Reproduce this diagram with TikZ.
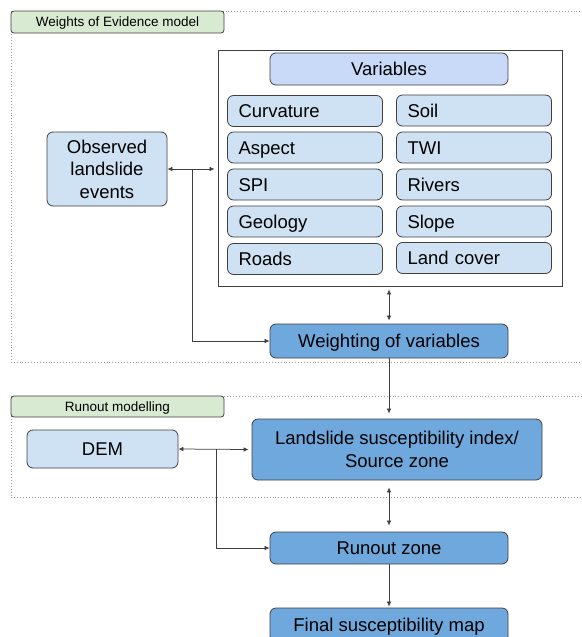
\documentclass[tikz,border=0pt]{standalone}
\usepackage{fontspec}
\setmainfont{Liberation Sans}
\usepackage{xcolor}
\usetikzlibrary{calc}
\usetikzlibrary{arrows.meta}
\usetikzlibrary{positioning}

\definecolor{boxline}{HTML}{3F3F3F}
\definecolor{varfill}{HTML}{CFE2F3}
\definecolor{headfill}{HTML}{C9DAF8}
\definecolor{procfill}{HTML}{6FA8DC}
\definecolor{tagfill}{HTML}{D9EAD3}

\begin{document}
\begin{tikzpicture}[x=1pt,y=-1pt,>={Latex[length=5pt,width=4.5pt]}]
    \tikzstyle{every node}=[inner sep=0pt,font=\fontsize{18.5}{22.5}\selectfont]
    \tikzstyle{sect}=[draw=black!40,dotted,line width=0.9pt]
    \tikzstyle{tag}=[draw=boxline,line width=0.8pt,fill=tagfill,rounded corners=3pt,minimum width=213pt,text height=10.5pt,text depth=1pt,font=\fontsize{13.5}{16}\selectfont]
    \tikzstyle{var}=[draw=boxline,line width=0.8pt,fill=varfill,rounded corners=6pt,minimum height=31pt,text width=133pt,inner xsep=11pt,align=left,text height=14pt,text depth=1pt]
    \tikzstyle{proc}=[draw=boxline,line width=0.8pt,fill=procfill,rounded corners=6pt,align=center,minimum width=238pt]
    \tikzstyle{one}=[text height=14pt,text depth=1pt]
    \tikzstyle{link}=[draw=boxline,line width=0.75pt]

   \useasboundingbox (0,0) rectangle (581,637);

   \draw[sect] (11,11) rectangle (600,362);
   \draw[sect] (11,396) rectangle (600,497);

   \node[tag,minimum height=22pt] (woe) at (117.5,22) {Weights of Evidence model};
   \node[tag,minimum height=21pt] (runmod) at (117.5,406.5) {Runout modelling};

   \node[draw=boxline,line width=0.8pt,minimum width=344pt,minimum height=236pt] (frame) at (390,168) {};
   \node[proc,one,fill=headfill,minimum height=32pt] (vars) at (389,69) {Variables};

   \def\colL{305}
   \def\colR{474}

   \node[var] (curv) at (\colL,111) {Curvature};
   \node[var] (aspect) at (\colL,147.5) {Aspect};
   \node[var] (spi) at (\colL,184.5) {SPI};
   \node[var] (geol) at (\colL,221.5) {Geology};
   \node[var] (roads) at (\colL,259) {Roads};

   \node[var] (soil) at (\colR,110.5) {Soil};
   \node[var] (twi) at (\colR,147.5) {TWI};
   \node[var] (rivers) at (\colR,184.5) {Rivers};
   \node[var] (slope) at (\colR,221.5) {Slope};
   \node[var] (cover) at (\colR,258) {Land cover};

   \node[proc,fill=varfill,minimum width=120pt,minimum height=74pt] (obs) at (107,169) {Observed\\landslide\\events};
   \node[proc,one,minimum height=34pt] (weight) at (389,341) {Weighting of variables};

   \node[proc,one,fill=varfill,minimum width=151pt,minimum height=38pt] (dem) at (102.5,449) {DEM};
   \node[proc,minimum width=290pt,minimum height=61pt] (land) at (397,449.5) {Landslide susceptibility index/\\Source zone};

   \node[proc,one,minimum height=32pt] (runout) at (389,548) {Runout zone};
   \node[proc,one,minimum height=34pt] (final) at (389,625) {Final susceptibility map};

   \def\aoff{3}

   \coordinate (j1) at ($(obs.east)+(25,0)$);
   \coordinate (j2) at ($(dem.east)+(38,0)$);

   \draw[link,<->] (obs.east) -- ($(obs.east -| frame.west) - (\aoff,0)$);
   \draw[link,->] (j1) |- (weight.west);
   \draw[link,<->] ($(weight.north |- frame.south) + (0,\aoff)$) -- ($(weight.north) - (0,\aoff)$);
   \draw[link,->] (weight.south) -- ($(weight.south |- land.north) - (0,5)$);

   \draw[link,<->] (dem.east) -- ($(land.west) - (\aoff,0)$);
   \draw[link,->] (j2) |- (runout.west);
   \draw[link,<->] ($(runout.north |- land.south) + (0,7)$) -- ($(runout.north) - (0,6)$);
   \draw[link,->] (runout.south) -- ($(final.north) - (0,1)$);

  \end{tikzpicture}
\end{document}
